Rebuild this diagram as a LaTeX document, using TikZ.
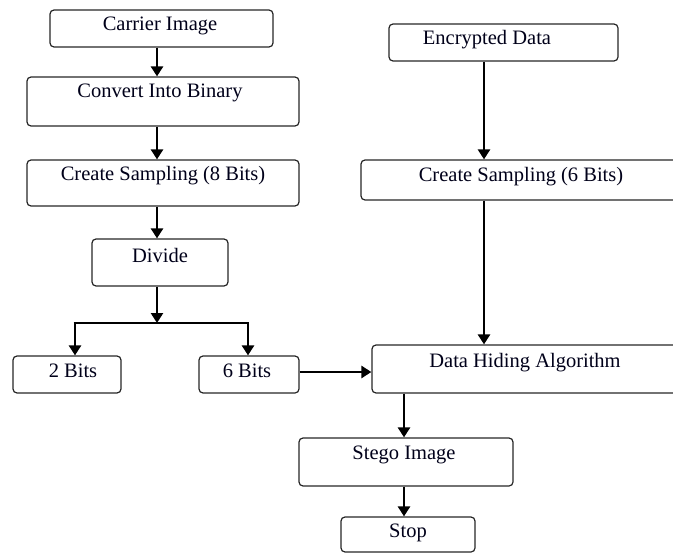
\documentclass[tikz,border=0pt]{standalone}
\usepackage{fontspec}
\setmainfont{Liberation Serif}
\usetikzlibrary{arrows.meta}
\begin{document}
\begin{tikzpicture}[x=1pt,y=-1pt,
  box/.style={draw=black!85, line width=1.2pt, rounded corners=4pt, inner sep=0pt},
  txt/.style={font=\fontsize{20.5}{24}\selectfont, text=black!90!blue, inner sep=0pt},
  conn/.style={line width=2.9pt, -{Triangle[length=10pt,width=12pt]}},
  plain/.style={line width=2.9pt}]
\useasboundingbox (0,0) rectangle (673,554);
\clip (0,0) rectangle (673,554);
% boxes
\node[box, minimum width=223pt, minimum height=37pt] (ci) at (161.5,28.5) {};
\node[box, minimum width=272pt, minimum height=49pt] (cb) at (163,101.5) {};
\node[box, minimum width=272pt, minimum height=46pt] (cs8) at (163,183) {};
\node[box, minimum width=136pt, minimum height=47pt] (dv) at (160,262.5) {};
\node[box, minimum width=108pt, minimum height=37pt] (b2) at (67,374.5) {};
\node[box, minimum width=100pt, minimum height=37pt] (b6) at (249,374.5) {};
\node[box, minimum width=229pt, minimum height=37pt] (ed) at (503.5,42.5) {};
\node[box, minimum width=339pt, minimum height=40pt] (cs6) at (530.5,180) {};
\node[box, minimum width=328pt, minimum height=48pt] (dh) at (536,369) {};
\node[box, minimum width=214pt, minimum height=48pt] (st) at (406,462) {};
\node[box, minimum width=134pt, minimum height=35pt] (sp) at (408,534.5) {};
% texts
\node[txt] (tci) at (160,26) {Carrier Image};
\node[txt] (tcb) at (160,93) {Convert Into Binary};
\node[txt] (tcs8) at (163,176) {Create Sampling (8 Bits)};
\node[txt] (tdv) at (160,255) {Divide};
\node[txt] (tb2) at (73,371) {2 Bits};
\node[txt] (tb6) at (247,371) {6 Bits};
\node[txt] (ted) at (487,40) {Encrypted Data};
\node[txt] (tcs6) at (521,177) {Create Sampling (6 Bits)};
\node[txt] (tdh) at (525,363) {Data Hiding Algorithm};
\node[txt] (tst) at (404,455) {Stego Image};
\node[txt] (tsp) at (408,533) {Stop};
% helper coordinates
\coordinate (xl) at (157,0);
\coordinate (xr) at (484,0);
\coordinate (xs) at (404,0);
\coordinate (junc) at (157,323);
\coordinate (jl) at (75,323);
\coordinate (jr) at (248,323);
% connectors
\draw[conn] (ci.south -| xl) -- (cb.north -| xl);
\draw[conn] (cb.south -| xl) -- (cs8.north -| xl);
\draw[conn] (cs8.south -| xl) -- (dv.north -| xl);
\draw[conn] (dv.south -| xl) -- (junc);
\draw[plain] ([xshift=-1.45pt]jl) -- ([xshift=1.45pt]jr);
\draw[conn] (jl) -- (b2.north -| jl);
\draw[conn] (jr) -- (b6.north -| jr);
\draw[conn] (b6.east |- 0,372) -- (dh.west |- 0,372);
\draw[conn] (ed.south -| xr) -- (cs6.north -| xr);
\draw[conn] (cs6.south -| xr) -- (dh.north -| xr);
\draw[conn] (dh.south -| xs) -- (st.north -| xs);
\draw[conn] (st.south -| xs) -- (sp.north -| xs);
\end{tikzpicture}
\end{document}
